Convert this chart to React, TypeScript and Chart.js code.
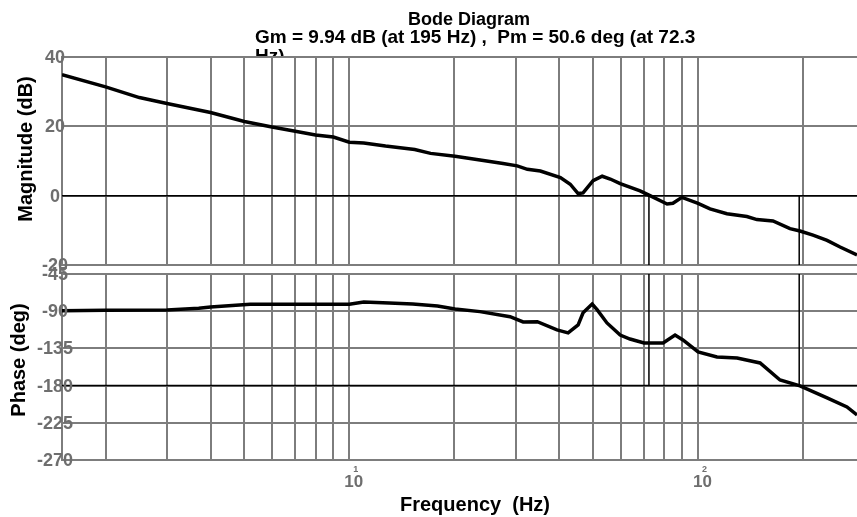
import React, { useEffect, useRef } from "react";
import { Chart, registerables } from "chart.js";

Chart.register(...registerables);

// ---------- data ----------
const magFreq = [1.5, 2.0, 2.5, 3.0, 4.0, 5.0, 6.0, 7.0, 8.0, 9.0, 10, 11, 12.7, 15.4, 17.1, 20.1, 23.7, 27.6, 30.3, 32.4, 35.3, 40.3, 43.0, 45.3, 46.8, 50.0, 53.1, 56.0, 59.8, 68.2, 72.8, 81.5, 84.7, 89.9, 100, 108.2, 121, 138, 147.5, 164, 183.5, 196, 213.6, 234.4, 255.4, 285.6];
const magDb = [34.9, 31.4, 28.3, 26.6, 24.0, 21.4, 19.8, 18.6, 17.5, 16.9, 15.4, 15.2, 14.3, 13.3, 12.2, 11.4, 10.3, 9.3, 8.6, 7.6, 7.1, 5.2, 3.3, 0.6, 0.8, 4.3, 5.6, 4.8, 3.5, 1.4, 0.0, -2.4, -2.2, -0.5, -2.2, -3.8, -5.2, -6.0, -6.9, -7.3, -9.5, -10.2, -11.4, -12.9, -14.8, -17.1];

const phaseFreq = [1.5, 2.0, 3.0, 3.7, 4.0, 5.2, 10, 11, 13, 15.2, 17.9, 20.1, 23.7, 28.9, 31.5, 34.6, 39.4, 42.4, 45.3, 46.8, 49.7, 51.4, 54.8, 59.8, 63.8, 70, 79.4, 85.9, 90.5, 100, 113.3, 129.4, 150.6, 171.8, 196, 234.4, 267.3, 285.6];
const phaseDeg = [-89.5, -89, -88.5, -86.5, -84.9, -81.7, -81.7, -79, -80, -81.3, -83.7, -87.3, -90.5, -96.6, -103, -102.7, -112.6, -116.2, -106.5, -92, -81.3, -88.5, -104.2, -118.8, -123.7, -128.5, -128.5, -118.8, -124.8, -139.3, -145.4, -146.6, -152.6, -173.2, -180.4, -194.9, -205.8, -215.5];

const fMin = 1.5;
const fMax = 285.6;
const gmFreq = 195;
const pmFreq = 72.3;

const xGridTicks = [2, 3, 4, 5, 6, 7, 8, 9, 10, 20, 30, 40, 50, 60, 70, 80, 90, 100, 200];
const xLabelTicks = [10, 100];
const xLabelExps = ["1", "2"];
const magTicks = [-20, 0, 20, 40];
const phaseTicks = [-270, -225, -180, -135, -90, -45];

const titleLines = ["Bode Diagram", "Gm = 9.94 dB (at 195 Hz) ,  Pm = 50.6 deg (at 72.3", "Hz)"];
const magTitle = "Magnitude (dB)";
const phaseTitle = "Phase (deg)";
const xTitle = "Frequency  (Hz)";

// ---------- styles ----------
const W = 857;
const H = 517;
const GRID = "rgb(125,125,125)";
const TICK_COLOR = "rgb(110,110,110)";
const FONT = "'Liberation Sans', Arial, sans-serif";

function pts(xs: number[], ys: number[]) {
  return xs.map((x, i) => ({ x, y: ys[i] }));
}

function yTickLabels(chart: any, ticks: number[]) {
  const ctx = chart.ctx;
  const s = chart.scales.y;
  ctx.save();
  ctx.fillStyle = TICK_COLOR;
  ctx.font = `bold 18px ${FONT}`;
  ctx.textAlign = "center";
  ctx.textBaseline = "middle";
  ticks.forEach((v) => {
    ctx.fillText(String(v), 55, s.getPixelForValue(v) + 1);
  });
  ctx.restore();
}

function rotatedText(ctx: any, text: string, cx: number, cy: number, font: string) {
  ctx.save();
  ctx.translate(cx, cy);
  ctx.rotate(-Math.PI / 2);
  ctx.font = font;
  ctx.fillStyle = "#000";
  ctx.textAlign = "center";
  ctx.textBaseline = "middle";
  ctx.fillText(text, 0, 0);
  ctx.restore();
}

const magPlugin = {
  id: "magText",
  afterDraw(chart: any) {
    const ctx = chart.ctx;
    ctx.save();
    ctx.fillStyle = "#000";
    ctx.textBaseline = "alphabetic";
    ctx.textAlign = "left";
    ctx.font = `bold 18px ${FONT}`;
    ctx.fillText(titleLines[0], 408, 25);
    ctx.font = `bold 19px ${FONT}`;
    ctx.fillText(titleLines[1], 255, 43);
    ctx.beginPath();
    ctx.rect(0, 0, W, chart.chartArea.top - 1);
    ctx.clip();
    ctx.fillText(titleLines[2], 255, 62);
    ctx.restore();
    yTickLabels(chart, magTicks);
    rotatedText(ctx, magTitle, 26, 149, `bold 20px ${FONT}`);
  },
};

const phasePlugin = {
  id: "phaseText",
  afterDraw(chart: any) {
    const ctx = chart.ctx;
    yTickLabels(chart, phaseTicks);
    rotatedText(ctx, phaseTitle, 19, 360, `bold 20px ${FONT}`);
    const xs = chart.scales.x;
    ctx.save();
    ctx.fillStyle = TICK_COLOR;
    xLabelTicks.forEach((v, i) => {
      const px = xs.getPixelForValue(v);
      ctx.font = `bold 17px ${FONT}`;
      ctx.textAlign = "center";
      ctx.textBaseline = "middle";
      ctx.fillText("10", px + 4.5, 482);
      ctx.font = `bold 9px ${FONT}`;
      ctx.fillText(xLabelExps[i], px + 6.5, 470);
    });
    ctx.restore();
    ctx.save();
    ctx.fillStyle = "#000";
    ctx.font = `bold 20px ${FONT}`;
    ctx.textAlign = "center";
    ctx.textBaseline = "middle";
    ctx.fillText(xTitle, 475, 505);
    ctx.restore();
  },
};

function makeScales(yMin: number, yMax: number, yTicks: number[]) {
  return {
    x: {
      type: "logarithmic",
      min: fMin,
      max: fMax,
      afterBuildTicks: (s: any) => {
        s.ticks = xGridTicks.map((v) => ({ value: v }));
      },
      afterFit: (s: any) => {
        s.height = 0;
      },
      ticks: { display: false },
      grid: { color: GRID, lineWidth: 2, drawTicks: false },
      border: { display: false },
    },
    y: {
      type: "linear",
      min: yMin,
      max: yMax,
      afterBuildTicks: (s: any) => {
        s.ticks = yTicks.map((v) => ({ value: v }));
      },
      afterFit: (s: any) => {
        s.width = 0;
      },
      ticks: { display: false },
      grid: { color: GRID, lineWidth: 2, drawTicks: false },
      border: { display: true, color: GRID, width: 2 },
    },
  };
}

function lineDs(data: any[], width: number) {
  return {
    data,
    borderColor: "#000",
    backgroundColor: "#000",
    borderWidth: width,
    pointRadius: 0,
    tension: 0,
    fill: false,
  };
}

export default function App() {
  const magRef = useRef<HTMLCanvasElement>(null);
  const phaseRef = useRef<HTMLCanvasElement>(null);

  useEffect(() => {
    const mag = new Chart(magRef.current as HTMLCanvasElement, {
      type: "line",
      data: {
        datasets: [
          lineDs([{ x: fMin, y: 0 }, { x: fMax, y: 0 }], 1.5),
          lineDs([{ x: pmFreq, y: 0 }, { x: pmFreq, y: -20 }], 1.5),
          lineDs([{ x: gmFreq, y: 0 }, { x: gmFreq, y: -20 }], 1.5),
          lineDs(pts(magFreq, magDb), 3.5),
        ],
      },
      options: {
        responsive: false,
        animation: false,
        events: [],
        layout: { autoPadding: false, padding: { left: 62, top: 57, right: 0, bottom: H - 265 } },
        plugins: { legend: { display: false }, tooltip: { enabled: false }, title: { display: false } },
        scales: makeScales(-20, 40, magTicks) as any,
      },
      plugins: [magPlugin],
    });
    const phase = new Chart(phaseRef.current as HTMLCanvasElement, {
      type: "line",
      data: {
        datasets: [
          lineDs([{ x: fMin, y: -180 }, { x: fMax, y: -180 }], 1.5),
          lineDs([{ x: pmFreq, y: -45 }, { x: pmFreq, y: -180 }], 1.5),
          lineDs([{ x: gmFreq, y: -45 }, { x: gmFreq, y: -180 }], 1.5),
          lineDs(pts(phaseFreq, phaseDeg), 3.5),
        ],
      },
      options: {
        responsive: false,
        animation: false,
        events: [],
        layout: { autoPadding: false, padding: { left: 62, top: 274, right: 0, bottom: H - 460 } },
        plugins: { legend: { display: false }, tooltip: { enabled: false }, title: { display: false } },
        scales: makeScales(-270, -45, phaseTicks) as any,
      },
      plugins: [phasePlugin],
    });
    return () => {
      mag.destroy();
      phase.destroy();
    };
  }, []);

  const cs: React.CSSProperties = { position: "absolute", left: 0, top: 0, width: W, height: H };
  return (
    <div style={{ position: "absolute", left: 0, top: 0, width: W, height: H, background: "#fff" }}>
      <canvas ref={magRef} width={W} height={H} style={cs} />
      <canvas ref={phaseRef} width={W} height={H} style={cs} />
    </div>
  );
}
